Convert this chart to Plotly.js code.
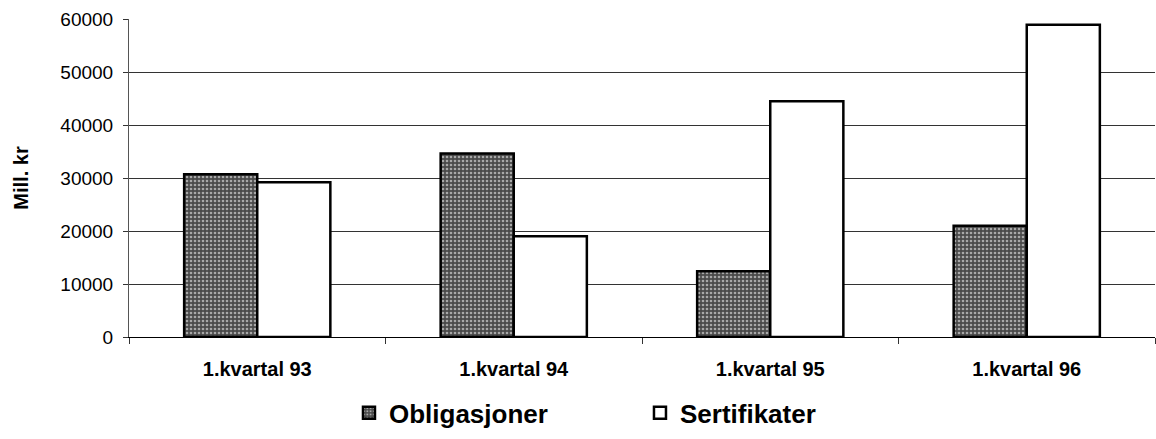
<!DOCTYPE html>
<html>
<head>
<meta charset="utf-8">
<script src="https://cdn.plot.ly/plotly-3.0.1.min.js"></script>
<style>html,body{margin:0;padding:0;background:#fff;}#chart{width:1156px;height:439px;}</style>
</head>
<body>
<div id="chart"></div>
<script>
const categories = ["1.kvartal 93", "1.kvartal 94", "1.kvartal 95", "1.kvartal 96"];
const obligasjoner = [30700, 34600, 12400, 21000];
const sertifikater = [29200, 19000, 44500, 58900];
const yTicks = [0, 10000, 20000, 30000, 40000, 50000, 60000];

const font = "Arial, 'Liberation Sans', sans-serif";

const data = [
  {
    type: "bar", name: "Obligasjoner", x: categories, y: obligasjoner,
    marker: {
      color: "#5c5c5c",
      pattern: {shape: ".", bgcolor: "#4a4a4a", fgcolor: "#a8a8a8", size: 4, solidity: 0.35},
      line: {color: "#000", width: 2.5}
    }
  },
  {
    type: "bar", name: "Sertifikater", x: categories, y: sertifikater,
    marker: {color: "#ffffff", line: {color: "#000", width: 2.5}}
  }
];

const layout = {
  width: 1156, height: 439,
  margin: {l: 129, r: 1, t: 19, b: 102},
  paper_bgcolor: "#fff", plot_bgcolor: "#fff",
  barmode: "group", bargap: 0.43, bargroupgap: 0,
  font: {family: font, color: "#000"},
  showlegend: true,
  legend: {
    orientation: "h", x: 0.2144, xanchor: "left", xref: "paper",
    y: -0.165, yanchor: "top",
    font: {size: 26, family: font, weight: "bold", color: "#000"},
    entrywidth: 246, entrywidthmode: "pixels",
    itemwidth: 30
  },
  xaxis: {
    type: "category",
    tickson: "boundaries", ticks: "outside", ticklen: 6, tickcolor: "#333",
    ticklabelstandoff: 14,
    showline: true, linecolor: "#000", linewidth: 1,
    tickfont: {size: 20, family: font, weight: "bold", color: "#000"},
    showgrid: false, zeroline: false
  },
  yaxis: {
    range: [0, 60000], tickvals: yTicks, ticktext: yTicks.map(String),
    ticks: "outside", ticklen: 5, tickcolor: "#333",
    ticklabelstandoff: 6,
    showline: true, linecolor: "#555", linewidth: 1,
    showgrid: true, gridcolor: "#333", gridwidth: 1,
    zeroline: true, zerolinecolor: "#000", zerolinewidth: 1,
    tickfont: {size: 19, family: font, color: "#000"},
    title: {text: "Mill. kr", font: {size: 20, family: font, weight: "bold", color: "#000"}, standoff: 26}
  }
};

Plotly.newPlot("chart", data, layout, {displayModeBar: false, staticPlot: true});
</script>
</body>
</html>
